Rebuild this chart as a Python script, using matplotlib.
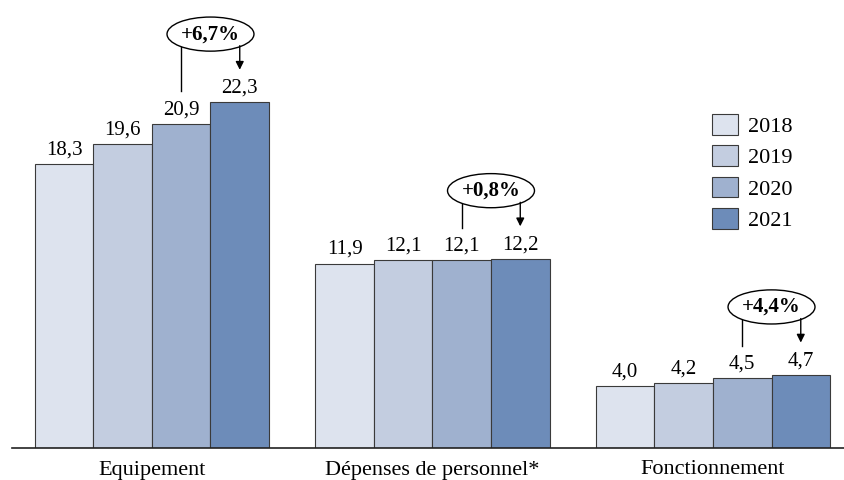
import matplotlib.pyplot as plt
import numpy as np
from matplotlib.patches import Ellipse

plt.rcParams['font.family'] = ['Liberation Serif', 'DejaVu Serif']

categories = ['Equipement', 'Dépenses de personnel*', 'Fonctionnement']
years = ['2018', '2019', '2020', '2021']
v2018 = [18.3, 11.9, 4.0]
v2019 = [19.6, 12.1, 4.2]
v2020 = [20.9, 12.1, 4.5]
v2021 = [22.3, 12.2, 4.7]
growth = ['+6,7%', '+0,8%', '+4,4%']

colors = ['#dde3ee', '#c3cde0', '#9fb1cf', '#6d8cb9']
series = [v2018, v2019, v2020, v2021]

fig = plt.figure(figsize=(8.44, 4.8), dpi=100)
ax = fig.add_axes([12 / 844, 32 / 480, 832 / 844, 448 / 480])

x = np.arange(len(categories))
w = 0.2086
offsets = np.array([-1.5, -0.5, 0.5, 1.5]) * w

for i, (vals, col, yr) in enumerate(zip(series, colors, years)):
    ax.bar(x + offsets[i], vals, w, color=col, edgecolor='#3a3a3a',
           linewidth=0.8, label=yr)
    for xb, v in zip(x + offsets[i], vals):
        ax.text(xb, v + 0.3, f'{v:.1f}'.replace('.', ','), ha='center',
                va='bottom', fontsize=15)

# annotations de croissance
for j in range(len(categories)):
    top = v2021[j]
    xl = x[j] + offsets[2]
    xr = x[j] + offsets[3]
    xc = (xl + xr) / 2
    yc = top + 4.4
    ell = Ellipse((xc, yc), 0.31, 2.2, facecolor='white', edgecolor='black',
                  linewidth=1.0, zorder=3)
    ax.add_patch(ell)
    ax.text(xc, yc, growth[j], ha='center', va='center', fontsize=15,
            fontweight='bold', zorder=4)
    ax.plot([xl, xl], [yc - 0.75, v2020[j] + 2.1], color='black', lw=1.0)
    ax.annotate('', xy=(xr, top + 2.1), xytext=(xr, yc - 0.75),
                arrowprops=dict(arrowstyle='-|>', color='black', lw=1.0,
                                mutation_scale=12, shrinkA=0, shrinkB=0))

ax.set_xlim(-0.499, 2.467)
ax.set_ylim(0, 28.9)
ax.set_xticks(x)
ax.set_xticklabels(categories, fontsize=16)
ax.tick_params(axis='x', length=0, pad=9)
ax.set_yticks([])
for s in ['top', 'right', 'left']:
    ax.spines[s].set_visible(False)
ax.spines['bottom'].set_color('#222222')
ax.spines['bottom'].set_linewidth(1.2)

ax.legend(loc='upper left', bbox_to_anchor=(0.817, 0.79), frameon=False,
          fontsize=16, handlelength=1.2, handleheight=1.05,
          labelspacing=0.38, handletextpad=0.45)

fig.savefig('out.png', dpi=100)
